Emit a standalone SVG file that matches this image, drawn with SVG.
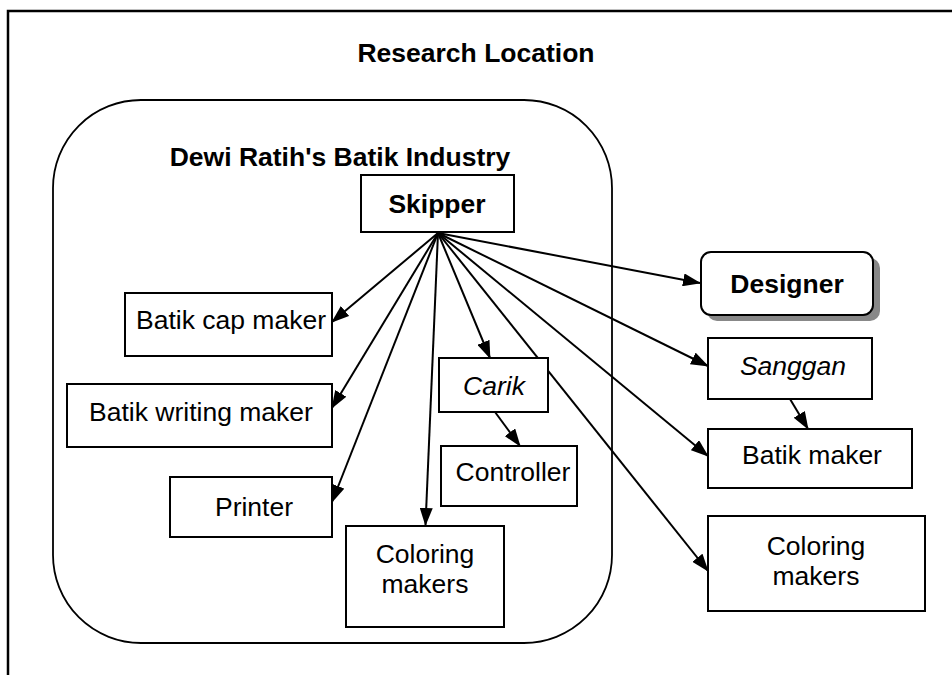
<svg xmlns="http://www.w3.org/2000/svg" width="952" height="675" viewBox="0 0 952 675">
<style>
text{font-family:"Liberation Sans",Arial,sans-serif;font-size:26.5px;fill:#000;text-anchor:middle}
.b{font-weight:bold}
.i{font-style:italic}
.box{fill:#fff;stroke:#000;stroke-width:2}
.con line{stroke:#000;stroke-width:2;marker-end:url(#ah)}
</style>
<defs>
<marker id="ah" markerWidth="18" markerHeight="13" refX="17" refY="6.5" orient="auto" markerUnits="userSpaceOnUse"><path d="M0,0 L18,6.5 L0,13 z" fill="#000"/></marker>
</defs>
<rect width="952" height="675" fill="#fff"/>
<path d="M8,675 V11 H952" fill="none" stroke="#000" stroke-width="2.5"/>
<text class="b" x="476" y="62" font-size="24.5">Research Location</text>
<g id="industry">
<rect x="53" y="100" width="559" height="543" rx="88" ry="88" fill="none" stroke="#000" stroke-width="1.8"/>
<text class="b" x="340" y="166">Dewi Ratih's Batik Industry</text>
</g>
<g class="con">
<line x1="438" y1="233" x2="700" y2="283"/>
<line x1="438" y1="233" x2="332" y2="322"/>
<line x1="438" y1="233" x2="332" y2="408"/>
<line x1="438" y1="233" x2="332" y2="502"/>
<line x1="438" y1="233" x2="425.5" y2="525"/>
<line x1="438" y1="233" x2="490" y2="358"/>
<line x1="438" y1="233" x2="708" y2="366"/>
<line x1="438" y1="233" x2="708" y2="456"/>
<line x1="438" y1="233" x2="708" y2="571"/>
<line x1="495" y1="412" x2="520" y2="446"/>
<line x1="790" y1="399" x2="808" y2="429"/>
</g>
<g id="skipper"><rect class="box" x="361" y="175" width="153" height="57"/><text class="b" x="437" y="213">Skipper</text></g>
<g id="designer"><rect x="707" y="258" width="173" height="63" rx="10" fill="#888"/><rect class="box" x="701" y="252" width="172" height="63" rx="10"/><text class="b" x="787" y="293">Designer</text></g>
<g id="capmaker"><rect class="box" x="125" y="293" width="207" height="63"/><text x="231" y="329">Batik cap maker</text></g>
<g id="writingmaker"><rect class="box" x="67" y="384" width="265" height="63"/><text x="201" y="421">Batik writing maker</text></g>
<g id="printer"><rect class="box" x="170" y="477" width="162" height="60"/><text x="254" y="516">Printer</text></g>
<g id="carik"><rect class="box" x="439" y="358" width="109" height="54"/><text class="i" x="494" y="395">Carik</text></g>
<g id="controller"><rect class="box" x="441" y="446" width="136" height="60"/><text x="513" y="481">Controller</text></g>
<g id="coloring1"><rect class="box" x="346" y="526" width="158" height="101"/><text x="425" y="563">Coloring</text><text x="425" y="593">makers</text></g>
<g id="sanggan"><rect class="box" x="708" y="338" width="164" height="61"/><text class="i" x="793" y="375">Sanggan</text></g>
<g id="batikmaker"><rect class="box" x="708" y="429" width="204" height="59"/><text x="812" y="464">Batik maker</text></g>
<g id="coloring2"><rect class="box" x="708" y="516" width="217" height="95"/><text x="816" y="555">Coloring</text><text x="816" y="585">makers</text></g>
</svg>
